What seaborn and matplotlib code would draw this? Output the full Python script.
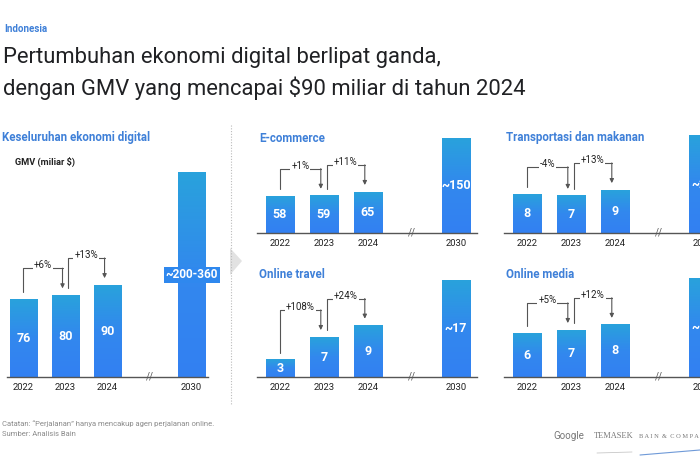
import numpy as np
import seaborn as sns
import matplotlib.pyplot as plt
from matplotlib.lines import Line2D
from matplotlib.patches import Polygon
from matplotlib.colors import LinearSegmentedColormap

# data
YEARS = ["2022", "2023", "2024", "2030"]
ORDER = ["2022", "2023", "2024", "", "2030"]

total_gmv = [76, 80, 90, 200]
total_labels = ["76", "80", "90", "~200-360"]
total_growth = ["+6%", "+13%"]

ecom_gmv = [58, 59, 65, 150]
ecom_labels = ["58", "59", "65", "~150"]
ecom_growth = ["+1%", "+11%"]

travel_gmv = [3, 7, 9, 17]
travel_labels = ["3", "7", "9", "~17"]
travel_growth = ["+108%", "+24%"]

transport_gmv = [8, 7.6, 8.8, 20]
transport_labels = ["8", "7", "9", "~20"]
transport_growth = ["-4%", "+13%"]

media_gmv = [6, 6.4, 7.1, 13.4]
media_labels = ["6", "7", "8", "~13"]
media_growth = ["+5%", "+12%"]

W, H = 700, 467
BLUE_TITLE = "#3f80d8"
GREY = "#555555"
grad = LinearSegmentedColormap.from_list("bar", ["#3380f2", "#3288ee", "#29a2dc"])

sns.set_style("white")
plt.rcParams['font.family'] = ['Roboto', 'DejaVu Sans']

fig = plt.figure(figsize=(7, 4.67), dpi=100)


def fx(px):
    return px / W


def fy(py):
    return 1 - py / H


def panel(x0, x1, base, height, ymax, xlim, vals, labels, growth, title, title_xy, hl_last=False):
    ax = fig.add_axes([fx(x0), fy(base), fx(x1 - x0), height / H])
    sns.barplot(x=YEARS, y=vals, order=ORDER, color="#3380f2", saturation=1,
                width=0.65, ax=ax, zorder=2)
    upx = ymax / height  # data units per pixel

    g = np.linspace(0, 1, 100).reshape(-1, 1)
    for p in list(ax.patches):
        bx, bw, bh = p.get_x(), p.get_width(), p.get_height()
        if bh <= 0:
            continue
        ax.imshow(g, extent=[bx, bx + bw, 0, bh], origin="lower", aspect="auto",
                  cmap=grad, zorder=2.5)

    pos = [0, 1, 2, 4]
    for i, (v, lab) in enumerate(zip(vals, labels)):
        kw = {}
        fs = 9
        if hl_last and i == 3:
            fs = 8.5
            kw = dict(bbox=dict(boxstyle="square,pad=0.15", fc="#2f88ee", ec="none"))
        ax.text(pos[i], v / 2, lab, ha="center", va="center", color="white",
                fontsize=fs, fontweight="bold", zorder=5, **kw)

    # growth brackets
    for i, lab in enumerate(growth):
        xs = i + (0.0 if i == 0 else 0.06)
        xe = i + 1 - 0.07
        y0 = vals[i] + 7 * upx
        ye = vals[i + 1] + 7 * upx
        yt = max(vals[i], vals[i + 1]) + 27 * upx
        ax.plot([xs, xs, xe], [y0, yt, yt], color=GREY, lw=0.8, zorder=3)
        ax.annotate("", xy=(xe, ye), xytext=(xe, yt + 0.2 * upx),
                    arrowprops=dict(arrowstyle="-|>", color=GREY, lw=0.8,
                                    mutation_scale=6, shrinkA=0, shrinkB=0),
                    zorder=3)
        ax.text((xs + xe) / 2, yt + 3 * upx, lab, ha="center", va="center",
                fontsize=7, color="#222222", zorder=4,
                bbox=dict(boxstyle="square,pad=0.1", fc="white", ec="none"))

    ax.text(3, 0, "//", ha="center", va="center", fontsize=7, color=GREY, zorder=4)
    ax.set_xlim(*xlim)
    ax.set_ylim(0, ymax)
    ax.set_xlabel("")
    ax.set_ylabel("")
    ax.set_yticks([])
    for s in ["top", "right", "left"]:
        ax.spines[s].set_visible(False)
    ax.spines["bottom"].set_color(GREY)
    ax.spines["bottom"].set_linewidth(1)
    ax.tick_params(axis="x", length=0, pad=4, labelsize=6.8, labelcolor="#222222")
    ax.patch.set_alpha(0)
    fig.text(fx(title_xy[0]), fy(title_xy[1]), title, ha="left", va="center",
             fontsize=8.3, fontweight="bold", color=BLUE_TITLE)
    return ax


panel(7, 208, 377, 212, 207.8, (-0.39, 4.39), total_gmv, total_labels, total_growth,
      "Keseluruhan ekonomi digital", (2, 138), hl_last=True)
panel(257, 477, 233, 103, 163.5, (-0.52, 4.48), ecom_gmv, ecom_labels, ecom_growth,
      "E-commerce", (259, 138))
panel(257, 477, 377, 103, 18.07, (-0.52, 4.48), travel_gmv, travel_labels, travel_growth,
      "Online travel", (259, 274))
panel(504, 724, 233, 103, 21.15, (-0.52, 4.48), transport_gmv, transport_labels,
      transport_growth, "Transportasi dan makanan", (506, 138))
panel(504, 724, 377, 103, 14.05, (-0.52, 4.48), media_gmv, media_labels, media_growth,
      "Online media", (506, 274))

fig.text(fx(15), fy(162), "GMV (miliar $)", fontsize=6.6, fontweight="bold",
         color="#222222", va="center")

# header
fig.text(fx(4), fy(29), "Indonesia", fontsize=7, fontweight="bold", color=BLUE_TITLE, va="center")
fig.text(fx(3), fy(58), "Pertumbuhan ekonomi digital berlipat ganda,", fontsize=15.8,
         color="#202124", va="center")
fig.text(fx(3), fy(88), "dengan GMV yang mencapai $90 miliar di tahun 2024", fontsize=15.8,
         color="#202124", va="center")

# divider and chevron
fig.add_artist(Line2D([fx(231), fx(231)], [fy(125), fy(405)], ls=(0, (1, 1.5)),
                      color="#bbbbbb", lw=0.8))
fig.add_artist(Polygon([(fx(230), fy(248)), (fx(242), fy(261)), (fx(230), fy(275))],
                       closed=True, fc="#e2e2e2", ec="none", transform=fig.transFigure))

# footer
fig.text(fx(2), fy(424), "Catatan: \u201cPerjalanan\u201d hanya mencakup agen perjalanan online.",
         fontsize=5.5, color="#8a8a8a", va="center")
fig.text(fx(2), fy(434), "Sumber: Analisis Bain", fontsize=5.5, color="#8a8a8a", va="center")
fig.text(fx(553), fy(436), "Google", fontsize=7, color="#777777", va="center")
fig.text(fx(594), fy(436), "TEMASEK", fontsize=6, color="#777777", va="center",
         family="Liberation Serif")
fig.text(fx(639), fy(436), "B A I N  &  C O M P A N Y", fontsize=4.6, color="#777777",
         va="center", family="Liberation Serif")
fig.add_artist(Line2D([fx(597), fx(632)], [fy(453), fy(452)], color="#c8c8c8", lw=0.6))
fig.add_artist(Line2D([fx(640), fx(700)], [fy(455), fy(450)], color="#6f9ad8", lw=0.8))

fig.savefig("out.png", dpi=100)
